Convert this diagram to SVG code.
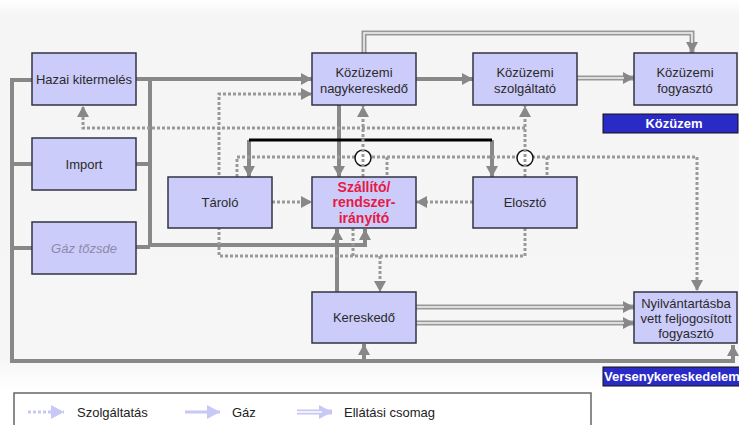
<svg xmlns="http://www.w3.org/2000/svg" width="739" height="425" viewBox="0 0 739 425">
  <defs>
    <linearGradient id="bg" x1="0" y1="0" x2="0" y2="1">
      <stop offset="0" stop-color="#ffffff"/>
      <stop offset="0.04" stop-color="#f5f5f5"/>
      <stop offset="0.92" stop-color="#f6f6f6"/>
      <stop offset="1" stop-color="#ffffff"/>
    </linearGradient>
    <marker id="ah" markerUnits="userSpaceOnUse" markerWidth="12" markerHeight="12" refX="11" refY="6" orient="auto">
      <path d="M0,0 L11,6 L0,12 z" fill="#888"/>
    </marker>
    <marker id="ahl" markerUnits="userSpaceOnUse" markerWidth="14" markerHeight="14" refX="13" refY="7" orient="auto">
      <path d="M0,0 L13,7 L0,14 z" fill="#c8c8f6"/>
    </marker>
    <style>
      .box { fill: #ccccfa; stroke: #333344; stroke-width: 1.5; }
      .lbl { font-family: "Liberation Sans", Arial, sans-serif; font-size: 13px; fill: #2a2a2a; text-anchor: middle; }
      .gas { fill: none; stroke: #888; stroke-width: 4; }
      .svc { fill: none; stroke: #999; stroke-width: 3; stroke-dasharray: 3 2; }
      .dbl-o { fill: none; stroke: #999; stroke-width: 5; }
      .dbl-i { fill: none; stroke: #f4f4f4; stroke-width: 1.5; }
      .bar { fill: #2a2ac6; stroke: #111; stroke-width: 1; }
      .bartxt { font-family: "Liberation Sans", Arial, sans-serif; font-size: 13px; font-weight: bold; fill: #fff; }
      .leg { font-family: "Liberation Sans", Arial, sans-serif; font-size: 13px; fill: #222; }
    </style>
  </defs>

  <rect x="0" y="0" width="739" height="390" fill="url(#bg)"/>

  <g id="connectors">
    <!-- gas flows -->
    <path class="gas" d="M32,80 H12 V361 H733 V345" marker-end="url(#ah)"/>
    <path class="gas" d="M32,164 H12 M32,248 H12"/>
    <path class="gas" d="M364,361 V344" marker-end="url(#ah)"/>
    <path class="gas" d="M136,79 H312" marker-end="url(#ah)"/>
    <path class="gas" d="M150,79 V247 M136,164 H150 M136,247 H150"/>
    <path class="gas" d="M150,245 H365 V229" marker-end="url(#ah)"/>
    <path class="gas" d="M339,105 V177" marker-end="url(#ah)"/>
    <path class="gas" d="M337,292 V229" marker-end="url(#ah)"/>
    <path class="gas" d="M416,79 H473" marker-end="url(#ah)"/>
    <path class="gas" d="M249,140 V177" marker-end="url(#ah)"/>
    <path class="gas" d="M492,140 V177" marker-end="url(#ah)"/>
    <path d="M249,140 H492" fill="none" stroke="#000" stroke-width="3"/>

    <!-- supply packages -->
    <path class="dbl-o" d="M577,78 H634" marker-end="url(#ah)"/>
    <path class="dbl-i" d="M577,78 H624"/>
    <path class="dbl-o" d="M364,53 V33 H692 V53" marker-end="url(#ah)"/>
    <path class="dbl-i" d="M364,53 V33 H692 V43"/>
    <path class="dbl-o" d="M416,307 H634" marker-end="url(#ah)"/>
    <path class="dbl-i" d="M416,307 H624"/>
    <path class="dbl-o" d="M416,323 H634" marker-end="url(#ah)"/>
    <path class="dbl-i" d="M416,323 H624"/>

    <!-- services -->
    <path class="svc" d="M525,128 H83 V106" marker-end="url(#ah)"/>
    <path class="svc" d="M237,177 V157 H697 V291" marker-end="url(#ah)"/>
    <path class="svc" d="M387,157 V177"/>
    <path class="svc" d="M547,157 V177"/>
    <path class="svc" d="M525,228 V256 H219 V94 H312" marker-end="url(#ah)"/>
    <path class="svc" d="M353,228 V256"/>
    <path class="svc" d="M380,256 V292" marker-end="url(#ah)"/>
    <path class="svc" d="M272,202 H312" marker-end="url(#ah)"/>
    <path class="svc" d="M473,202 H416" marker-end="url(#ah)"/>
    <circle cx="363" cy="158" r="8" fill="#fff" stroke="#111" stroke-width="1.5"/>
    <circle cx="525" cy="158" r="8" fill="#fff" stroke="#111" stroke-width="1.5"/>
    <path class="svc" d="M363,177 V106" marker-end="url(#ah)"/>
    <path class="svc" d="M525,177 V106" marker-end="url(#ah)"/>
  </g>

  <g id="hazai-kitermeles">
    <rect class="box" x="32" y="53" width="104" height="52"/>
    <text class="lbl" x="84" y="84">Hazai kitermelés</text>
  </g>
  <g id="import">
    <rect class="box" x="32" y="138" width="104" height="52"/>
    <text class="lbl" x="84" y="169">Import</text>
  </g>
  <g id="gaz-tozsde">
    <rect class="box" x="32" y="222" width="104" height="52"/>
    <text class="lbl" x="84" y="253" style="font-style:italic; fill:#8a8aaa">Gáz tőzsde</text>
  </g>
  <g id="tarolo">
    <rect class="box" x="168" y="177" width="104" height="51"/>
    <text class="lbl" x="220" y="207">Tároló</text>
  </g>
  <g id="kozuzemi-nagykereskedo">
    <rect class="box" x="312" y="53" width="104" height="52"/>
    <text class="lbl" x="364" y="77">Közüzemi</text>
    <text class="lbl" x="364" y="93">nagykereskedő</text>
  </g>
  <g id="kozuzemi-szolgaltato">
    <rect class="box" x="473" y="53" width="104" height="52"/>
    <text class="lbl" x="525" y="77">Közüzemi</text>
    <text class="lbl" x="525" y="93">szolgáltató</text>
  </g>
  <g id="kozuzemi-fogyaszto">
    <rect class="box" x="634" y="53" width="103" height="52"/>
    <text class="lbl" x="685" y="77">Közüzemi</text>
    <text class="lbl" x="685" y="93">fogyasztó</text>
  </g>
  <g id="szallito">
    <rect class="box" x="312" y="177" width="104" height="51"/>
    <text class="lbl" x="364" y="192" style="font-size:14px; font-weight:bold; fill:#e41b45">Szállító/</text>
    <text class="lbl" x="364" y="207" style="font-size:14px; font-weight:bold; fill:#e41b45">rendszer-</text>
    <text class="lbl" x="364" y="223" style="font-size:14px; font-weight:bold; fill:#e41b45">irányító</text>
  </g>
  <g id="eloszto">
    <rect class="box" x="473" y="177" width="104" height="51"/>
    <text class="lbl" x="525" y="207">Elosztó</text>
  </g>
  <g id="kereskedo">
    <rect class="box" x="312" y="292" width="104" height="51"/>
    <text class="lbl" x="364" y="322">Kereskedő</text>
  </g>
  <g id="feljogositott-fogyaszto">
    <rect class="box" x="634" y="292" width="103" height="51"/>
    <text class="lbl" x="686" y="308">Nyilvántartásba</text>
    <text class="lbl" x="686" y="323">vett feljogosított</text>
    <text class="lbl" x="686" y="338">fogyasztó</text>
  </g>

  <g id="kozuzem-bar">
    <rect class="bar" x="603" y="114" width="135" height="19"/>
    <text class="bartxt" x="674" y="128" text-anchor="middle">Közüzem</text>
  </g>
  <g id="versenykereskedelem-bar">
    <rect class="bar" x="603" y="367" width="137" height="19"/>
    <text class="bartxt" x="604" y="381">Versenykereskedelem</text>
  </g>

  <g id="legend">
    <rect x="14" y="393" width="577" height="45" fill="#fff" stroke="#666" stroke-width="1.5"/>
    <path d="M28,412 H64" fill="none" stroke="#c8c8f6" stroke-width="3" stroke-dasharray="3 2" marker-end="url(#ahl)"/>
    <text class="leg" x="77" y="417">Szolgáltatás</text>
    <path d="M185,412 H220" fill="none" stroke="#c8c8f6" stroke-width="3" marker-end="url(#ahl)"/>
    <text class="leg" x="232" y="417">Gáz</text>
    <path d="M297,412 H332" fill="none" stroke="#c8c8f6" stroke-width="5" marker-end="url(#ahl)"/>
    <path d="M297,412 H322" fill="none" stroke="#fff" stroke-width="1.5"/>
    <text class="leg" x="344" y="417">Ellátási csomag</text>
  </g>
</svg>
